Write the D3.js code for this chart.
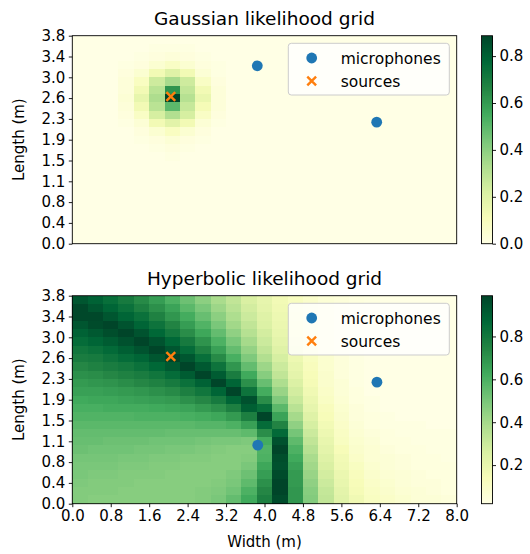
<!DOCTYPE html>
<html>
<head>
<meta charset="utf-8">
<script src="https://cdn.jsdelivr.net/npm/d3@7"></script>
<style>
  body { margin: 0; background: #ffffff; }
  text { font-family: "DejaVu Sans", sans-serif; fill: #000; }
</style>
</head>
<body>
<svg id="chart" width="530" height="554"></svg>
<script>
// Room extent in metres
const roomWidth = 8.0;
const roomLength = 3.8;

// Axis ticks
const xTickValues = [0, 0.8, 1.6, 2.4, 3.2, 4.0, 4.8, 5.6, 6.4, 7.2, 8.0];
const xTickLabels = ["0.0", "0.8", "1.6", "2.4", "3.2", "4.0", "4.8", "5.6", "6.4", "7.2", "8.0"];
const yTickValues = [0, 0.38, 0.76, 1.14, 1.52, 1.9, 2.28, 2.66, 3.04, 3.42, 3.8];
const yTickLabels = ["0.0", "0.4", "0.8", "1.1", "1.5", "1.9", "2.3", "2.6", "3.0", "3.4", "3.8"];
const gaussianColorbarTicks = [0, 0.2, 0.4, 0.6, 0.8];
const hyperbolicColorbarTicks = [0.2, 0.4, 0.6, 0.8];

// Microphone and source positions (x, y) in metres
const gaussianMics = [[3.85, 3.25], [6.335, 2.22]];
const hyperbolicMics = [[3.86, 1.07], [6.34, 2.22]];
const sources = [[2.05, 2.69]];

// Likelihood grids, 25 x 25 cells; the first row is the far wall (largest length)
const gaussianRows = [
  [0,0,0,0,0,0,0,0,0,0,0,0,0,0,0,0,0,0,0,0,0,0,0,0,0],
  [0,0,0,0,0,0.01,0.01,0.01,0,0,0,0,0,0,0,0,0,0,0,0,0,0,0,0,0],
  [0,0,0,0,0.01,0.02,0.03,0.02,0.01,0,0,0,0,0,0,0,0,0,0,0,0,0,0,0,0],
  [0,0,0,0.01,0.02,0.05,0.08,0.05,0.02,0.01,0,0,0,0,0,0,0,0,0,0,0,0,0,0,0],
  [0,0,0,0.02,0.05,0.13,0.20,0.13,0.04,0.01,0,0,0,0,0,0,0,0,0,0,0,0,0,0,0],
  [0,0,0,0.03,0.09,0.25,0.34,0.25,0.08,0.02,0,0,0,0,0,0,0,0,0,0,0,0,0,0,0],
  [0,0,0,0.03,0.13,0.30,0.62,0.28,0.13,0.03,0,0,0,0,0,0,0,0,0,0,0,0,0,0,0],
  [0,0,0,0.04,0.17,0.33,0.887,0.31,0.16,0.03,0,0,0,0,0,0,0,0,0,0,0,0,0,0,0],
  [0,0,0,0.03,0.13,0.30,0.50,0.27,0.12,0.03,0,0,0,0,0,0,0,0,0,0,0,0,0,0,0],
  [0,0,0,0.02,0.08,0.23,0.32,0.23,0.08,0.02,0,0,0,0,0,0,0,0,0,0,0,0,0,0,0],
  [0,0,0,0.01,0.04,0.13,0.19,0.13,0.04,0.01,0,0,0,0,0,0,0,0,0,0,0,0,0,0,0],
  [0,0,0,0,0.02,0.05,0.09,0.05,0.02,0,0,0,0,0,0,0,0,0,0,0,0,0,0,0,0],
  [0,0,0,0,0.01,0.02,0.04,0.02,0.01,0,0,0,0,0,0,0,0,0,0,0,0,0,0,0,0],
  [0,0,0,0,0,0.01,0.02,0.01,0,0,0,0,0,0,0,0,0,0,0,0,0,0,0,0,0],
  [0,0,0,0,0,0,0.01,0,0,0,0,0,0,0,0,0,0,0,0,0,0,0,0,0,0],
  [0,0,0,0,0,0,0,0,0,0,0,0,0,0,0,0,0,0,0,0,0,0,0,0,0],
  [0,0,0,0,0,0,0,0,0,0,0,0,0,0,0,0,0,0,0,0,0,0,0,0,0],
  [0,0,0,0,0,0,0,0,0,0,0,0,0,0,0,0,0,0,0,0,0,0,0,0,0],
  [0,0,0,0,0,0,0,0,0,0,0,0,0,0,0,0,0,0,0,0,0,0,0,0,0],
  [0,0,0,0,0,0,0,0,0,0,0,0,0,0,0,0,0,0,0,0,0,0,0,0,0],
  [0,0,0,0,0,0,0,0,0,0,0,0,0,0,0,0,0,0,0,0,0,0,0,0,0],
  [0,0,0,0,0,0,0,0,0,0,0,0,0,0,0,0,0,0,0,0,0,0,0,0,0],
  [0,0,0,0,0,0,0,0,0,0,0,0,0,0,0,0,0,0,0,0,0,0,0,0,0],
  [0,0,0,0,0,0,0,0,0,0,0,0,0,0,0,0,0,0,0,0,0,0,0,0,0],
  [0,0,0,0,0,0,0,0,0,0,0,0,0,0,0,0,0,0,0,0,0,0,0,0,0]
];

const hyperbolicRows = [
  [0.93,0.89,0.84,0.79,0.73,0.67,0.60,0.53,0.46,0.39,0.33,0.26,0.21,0.16,0.12,0.09,0.06,0.05,0.04,0.03,0.02,0.02,0.02,0.02,0.02],
  [0.98,0.93,0.88,0.83,0.77,0.71,0.65,0.57,0.50,0.42,0.35,0.28,0.22,0.17,0.12,0.09,0.07,0.05,0.04,0.03,0.02,0.02,0.02,0.02,0.02],
  [0.98,0.98,0.93,0.88,0.83,0.76,0.69,0.62,0.54,0.46,0.38,0.30,0.24,0.18,0.13,0.09,0.07,0.05,0.04,0.03,0.02,0.02,0.02,0.02,0.02],
  [0.93,0.97,0.99,0.94,0.88,0.82,0.75,0.67,0.59,0.50,0.41,0.33,0.25,0.19,0.14,0.10,0.07,0.05,0.03,0.03,0.02,0.02,0.02,0.02,0.02],
  [0.89,0.92,0.96,0.99,0.94,0.87,0.80,0.72,0.64,0.55,0.45,0.36,0.28,0.20,0.14,0.10,0.07,0.05,0.03,0.02,0.02,0.02,0.02,0.02,0.02],
  [0.85,0.88,0.91,0.95,0.99,0.94,0.87,0.79,0.70,0.60,0.50,0.40,0.30,0.22,0.15,0.11,0.07,0.05,0.03,0.02,0.02,0.02,0.02,0.02,0.02],
  [0.81,0.83,0.86,0.90,0.94,0.99,0.93,0.85,0.76,0.66,0.55,0.44,0.33,0.24,0.17,0.11,0.07,0.05,0.03,0.02,0.02,0.02,0.02,0.02,0.02],
  [0.78,0.79,0.82,0.85,0.88,0.93,0.99,0.93,0.84,0.73,0.61,0.49,0.37,0.27,0.18,0.12,0.08,0.05,0.03,0.02,0.02,0.02,0.02,0.02,0.02],
  [0.74,0.76,0.78,0.80,0.83,0.87,0.92,0.99,0.92,0.82,0.69,0.55,0.42,0.30,0.20,0.13,0.08,0.05,0.03,0.02,0.02,0.02,0.02,0.02,0.02],
  [0.71,0.72,0.74,0.76,0.78,0.81,0.85,0.91,0.99,0.91,0.78,0.63,0.47,0.33,0.22,0.14,0.09,0.05,0.03,0.02,0.02,0.02,0.02,0.02,0.02],
  [0.68,0.69,0.70,0.72,0.74,0.76,0.79,0.83,0.89,0.99,0.88,0.71,0.54,0.38,0.25,0.15,0.09,0.06,0.03,0.02,0.02,0.02,0.02,0.02,0.02],
  [0.66,0.66,0.67,0.68,0.69,0.71,0.73,0.77,0.81,0.88,0.99,0.82,0.62,0.43,0.28,0.17,0.10,0.06,0.04,0.02,0.02,0.02,0.02,0.02,0.02],
  [0.63,0.64,0.64,0.65,0.66,0.67,0.68,0.71,0.74,0.79,0.88,0.95,0.72,0.49,0.31,0.19,0.11,0.07,0.04,0.03,0.02,0.02,0.02,0.02,0.02],
  [0.61,0.61,0.62,0.62,0.62,0.63,0.64,0.65,0.68,0.71,0.77,0.90,0.84,0.57,0.35,0.21,0.13,0.08,0.05,0.03,0.02,0.02,0.02,0.02,0.02],
  [0.59,0.59,0.59,0.59,0.60,0.60,0.60,0.61,0.62,0.64,0.68,0.77,0.99,0.65,0.40,0.24,0.14,0.09,0.05,0.04,0.03,0.02,0.02,0.02,0.02],
  [0.57,0.57,0.57,0.57,0.57,0.57,0.57,0.57,0.58,0.58,0.60,0.66,0.85,0.75,0.45,0.27,0.16,0.10,0.06,0.04,0.03,0.03,0.03,0.02,0.02],
  [0.55,0.55,0.55,0.55,0.55,0.55,0.54,0.54,0.54,0.54,0.54,0.56,0.72,0.86,0.51,0.30,0.18,0.11,0.07,0.05,0.04,0.03,0.03,0.03,0.03],
  [0.54,0.54,0.53,0.53,0.53,0.52,0.52,0.52,0.51,0.50,0.50,0.49,0.62,0.95,0.56,0.33,0.20,0.12,0.08,0.06,0.04,0.04,0.03,0.03,0.03],
  [0.53,0.52,0.52,0.52,0.51,0.51,0.50,0.50,0.49,0.48,0.47,0.47,0.59,0.99,0.60,0.36,0.22,0.14,0.09,0.07,0.05,0.04,0.04,0.03,0.03],
  [0.51,0.51,0.51,0.50,0.50,0.49,0.49,0.48,0.48,0.47,0.47,0.48,0.60,0.96,0.63,0.39,0.24,0.16,0.10,0.07,0.06,0.05,0.04,0.04,0.03],
  [0.50,0.50,0.50,0.49,0.49,0.48,0.48,0.47,0.47,0.47,0.47,0.50,0.64,0.95,0.66,0.41,0.26,0.17,0.12,0.08,0.06,0.05,0.04,0.04,0.04],
  [0.50,0.49,0.49,0.48,0.48,0.48,0.47,0.47,0.47,0.47,0.49,0.53,0.67,0.97,0.68,0.43,0.28,0.19,0.13,0.09,0.07,0.06,0.05,0.04,0.04],
  [0.49,0.48,0.48,0.48,0.47,0.47,0.47,0.47,0.47,0.48,0.50,0.56,0.71,0.99,0.68,0.45,0.30,0.20,0.14,0.10,0.08,0.06,0.05,0.05,0.04],
  [0.48,0.48,0.48,0.47,0.47,0.47,0.47,0.47,0.48,0.49,0.52,0.60,0.74,0.99,0.69,0.47,0.32,0.22,0.15,0.11,0.09,0.07,0.06,0.05,0.04],
  [0.48,0.47,0.47,0.47,0.47,0.47,0.47,0.47,0.48,0.50,0.55,0.63,0.77,0.97,0.69,0.48,0.33,0.23,0.17,0.12,0.10,0.08,0.06,0.06,0.05]
];

// YlGn sequential palette
const ylgn = ["#ffffe5", "#f7fcb9", "#d9f0a3", "#addd8e", "#78c679", "#41ab5d", "#238443", "#006837", "#004529"];

const svg = d3.select("#chart");
const left = 72.3, right = 456.7, panelH = 208;
const cbLeft = 481.5, cbWidth = 11;
const tickFont = 15, labelFont = 15, titleFont = 18.5, legendFont = 15.5;

const panels = [
  { title: "Gaussian likelihood grid", rows: gaussianRows, mics: gaussianMics, top: 35.7, cbTicks: gaussianColorbarTicks, xLabels: false },
  { title: "Hyperbolic likelihood grid", rows: hyperbolicRows, mics: hyperbolicMics, top: 295.7, cbTicks: hyperbolicColorbarTicks, xLabels: true }
];

function xMarkPath(cx, cy, a) {
  return `M${cx - a},${cy - a}L${cx + a},${cy + a}M${cx - a},${cy + a}L${cx + a},${cy - a}`;
}

panels.forEach(p => {
  const top = p.top, bottom = top + panelH;
  const x = d3.scaleLinear([0, roomWidth], [left, right]);
  const y = d3.scaleLinear([0, roomLength], [bottom, top]);
  const nRows = p.rows.length, nCols = p.rows[0].length;
  const cw = roomWidth / nCols, rh = roomLength / nRows;

  const cells = p.rows.flatMap((row, r) => row.map((v, c) => ({ r, c, v })));
  const ext = d3.extent(cells, d => d.v);
  const color = d3.scaleLinear()
    .domain(ylgn.map((_, k) => ext[0] + k / (ylgn.length - 1) * (ext[1] - ext[0])))
    .range(ylgn)
    .interpolate(d3.interpolateRgb)
    .clamp(true);

  const g = svg.append("g");

  // heat-map cells
  g.append("g").attr("shape-rendering", "crispEdges")
    .selectAll("rect").data(cells).join("rect")
    .attr("x", d => x(d.c * cw))
    .attr("y", d => y(roomLength - d.r * rh))
    .attr("width", d => x((d.c + 1) * cw) - x(d.c * cw))
    .attr("height", d => y(roomLength - (d.r + 1) * rh) - y(roomLength - d.r * rh))
    .attr("fill", d => color(d.v));

  // frame
  g.append("rect").attr("x", left).attr("y", top)
    .attr("width", right - left).attr("height", panelH)
    .attr("fill", "none").attr("stroke", "#000").attr("stroke-width", 0.9);

  // y axis
  const yAxis = g.append("g").attr("transform", `translate(${left},0)`)
    .call(d3.axisLeft(y).tickValues(yTickValues).tickFormat((d, i) => yTickLabels[i]).tickSize(3.5).tickPadding(3.5));
  yAxis.select(".domain").remove();
  yAxis.selectAll("line").attr("stroke", "#000").attr("stroke-width", 0.9);
  yAxis.selectAll("text").attr("font-size", tickFont).attr("font-family", "DejaVu Sans");

  g.append("text")
    .attr("transform", `translate(24,${(top + bottom) / 2}) rotate(-90)`)
    .attr("text-anchor", "middle").attr("font-size", labelFont)
    .text("Length (m)");

  // x axis
  if (p.xLabels) {
    const xAxis = g.append("g").attr("transform", `translate(0,${bottom})`)
      .call(d3.axisBottom(x).tickValues(xTickValues).tickFormat((d, i) => xTickLabels[i]).tickSize(3.5).tickPadding(3.5));
    xAxis.select(".domain").remove();
    xAxis.selectAll("line").attr("stroke", "#000").attr("stroke-width", 0.9);
    xAxis.selectAll("text").attr("font-size", tickFont).attr("font-family", "DejaVu Sans");
    g.append("text")
      .attr("x", (left + right) / 2).attr("y", bottom + 43.5)
      .attr("text-anchor", "middle").attr("font-size", labelFont)
      .text("Width (m)");
  }

  // title
  g.append("text")
    .attr("x", (left + right) / 2).attr("y", top - 11.2)
    .attr("text-anchor", "middle").attr("font-size", titleFont)
    .text(p.title);

  // microphones
  g.append("g").selectAll("circle").data(p.mics).join("circle")
    .attr("cx", d => x(d[0])).attr("cy", d => y(d[1])).attr("r", 5.4)
    .attr("fill", "#1f77b4");

  // sources
  g.append("g").selectAll("path").data(sources).join("path")
    .attr("d", d => xMarkPath(x(d[0]), y(d[1]), 4.4))
    .attr("stroke", "#ff7f0e").attr("stroke-width", 2.4).attr("fill", "none");

  // legend
  const lg = g.append("g").attr("transform", `translate(288.3,${top + 7.6})`);
  lg.append("rect").attr("width", 161).attr("height", 51.7).attr("rx", 3)
    .attr("fill", "#ffffff").attr("fill-opacity", 0.8)
    .attr("stroke", "#cccccc").attr("stroke-width", 1);
  lg.append("circle").attr("cx", 23.4).attr("cy", 14.7).attr("r", 5.4).attr("fill", "#1f77b4");
  lg.append("text").attr("x", 52.4).attr("y", 14.7).attr("dy", "0.36em")
    .attr("font-size", legendFont).text("microphones");
  lg.append("path").attr("d", xMarkPath(23.4, 37.7, 4.4))
    .attr("stroke", "#ff7f0e").attr("stroke-width", 2.4).attr("fill", "none");
  lg.append("text").attr("x", 52.4).attr("y", 37.7).attr("dy", "0.36em")
    .attr("font-size", legendFont).text("sources");

  // colour bar
  const cy = d3.scaleLinear(ext, [bottom, top]);
  const steps = d3.range(256).map(k => ext[0] + k / 256 * (ext[1] - ext[0]));
  const stepH = (ext[1] - ext[0]) / 256;
  g.append("g").attr("shape-rendering", "crispEdges")
    .selectAll("rect").data(steps).join("rect")
    .attr("x", cbLeft).attr("width", cbWidth)
    .attr("y", d => cy(d + stepH))
    .attr("height", d => cy(d) - cy(d + stepH) + 0.5)
    .attr("fill", d => color(d + stepH / 2));
  g.append("rect").attr("x", cbLeft).attr("y", top)
    .attr("width", cbWidth).attr("height", panelH)
    .attr("fill", "none").attr("stroke", "#000").attr("stroke-width", 0.9);
  const cbAxis = g.append("g").attr("transform", `translate(${cbLeft + cbWidth},0)`)
    .call(d3.axisRight(cy).tickValues(p.cbTicks).tickFormat(d3.format(".1f")).tickSize(3.5).tickPadding(3.5));
  cbAxis.select(".domain").remove();
  cbAxis.selectAll("line").attr("stroke", "#000").attr("stroke-width", 0.9);
  cbAxis.selectAll("text").attr("font-size", tickFont).attr("font-family", "DejaVu Sans");
});
</script>
</body>
</html>
